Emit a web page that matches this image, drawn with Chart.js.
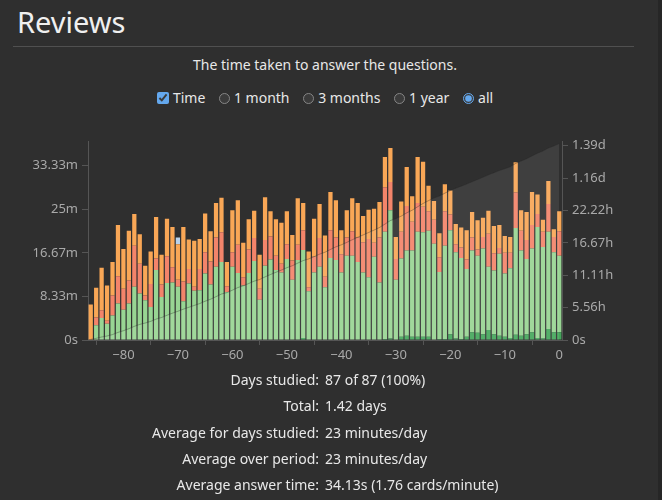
<!DOCTYPE html>
<html>
<head>
<meta charset="utf-8">
<script src="https://cdn.jsdelivr.net/npm/chart.js@4.4.1/dist/chart.umd.min.js"></script>
<style>
    html, body { margin: 0; padding: 0; }
    body {
        width: 662px; height: 500px; overflow: hidden; position: relative;
        background: #2f2f2f; color: #e8e8e8;
        font-family: "Noto Sans", "Open Sans", sans-serif;
        color-scheme: dark;
    }
    #title { position: absolute; left: 17px; top: 7px; font-size: 29px; line-height: 29px; color: #f0f0f0; }
    #rule { position: absolute; left: 13px; top: 46px; width: 621px; height: 1px; background: #505050; }
    #subtitle { position: absolute; left: 0; width: 650px; top: 55px; text-align: center; font-size: 14px; line-height: 20px; }
    #controls { position: absolute; left: 0; width: 650px; top: 88px; text-align: center; font-size: 14px; line-height: 20px; }
    #controls label { margin: 0 5px; white-space: nowrap; }
    #controls input { margin: 0 4px 0 0; vertical-align: -1px; width: 11px; height: 11px; accent-color: #64a8ee; }
    #controls input[type=checkbox] { width: 12px; height: 12px; vertical-align: -1px; }
    #chart-wrap { position: absolute; left: 0; top: 130px; width: 662px; height: 240px; }
    #stats { position: absolute; left: 0; top: 367px; width: 650px; font-size: 14px; line-height: 26.3px; }
    #stats .row { display: flex; }
    #stats .k { width: 319px; text-align: right; }
    #stats .v { padding-left: 6px; }
    #edge { position: absolute; right: 0; top: 0; width: 4px; height: 500px; background: #262626; }
</style>
</head>
<body>
<div id="title">Reviews</div>
<div id="rule"></div>
<div id="subtitle">The time taken to answer the questions.</div>
<div id="controls">
    <label><input type="checkbox" checked>Time</label>
    <label><input type="radio" name="range">1 month</label>
    <label><input type="radio" name="range">3 months</label>
    <label><input type="radio" name="range">1 year</label>
    <label><input type="radio" name="range" checked>all</label>
</div>
<div id="chart-wrap"><canvas id="reviewsChart" width="662" height="240"></canvas></div>
<div id="stats">
    <div class="row"><span class="k">Days studied:</span><span class="v">87 of 87 (100%)</span></div>
    <div class="row"><span class="k">Total:</span><span class="v">1.42 days</span></div>
    <div class="row"><span class="k">Average for days studied:</span><span class="v">23 minutes/day</span></div>
    <div class="row"><span class="k">Average over period:</span><span class="v">23 minutes/day</span></div>
    <div class="row"><span class="k">Average answer time:</span><span class="v">34.13s (1.76 cards/minute)</span></div>
</div>
<div id="edge"></div>

<script>
// Days relative to today
const days = [
    -86, -85, -84, -83, -82, -81, -80, -79, -78, -77,
    -76, -75, -74, -73, -72, -71, -70, -69, -68, -67,
    -66, -65, -64, -63, -62, -61, -60, -59, -58, -57,
    -56, -55, -54, -53, -52, -51, -50, -49, -48, -47,
    -46, -45, -44, -43, -42, -41, -40, -39, -38, -37,
    -36, -35, -34, -33, -32, -31, -30, -29, -28, -27,
    -26, -25, -24, -23, -22, -21, -20, -19, -18, -17,
    -16, -15, -14, -13, -12, -11, -10, -9, -8, -7,
    -6, -5, -4, -3, -2, -1, 0
];

// Minutes per day, one array per card type
const matureMins = [
    0, 0, 0, 0, 0, 0, 0, 0, 0, 0,
    0, 0, 0, 0, 0, 0, 0, 0, 0, 0,
    0, 0, 0, 0, 0, 0, 0, 0, 0, 0,
    0, 0, 0, 0, 0, 0, 0, 0, 0, 0.4,
    0, 0, 0, 0, 0, 0, 0, 0, 0, 0,
    0, 0, 0, 0, 0.2, 0.3, 0, 0.6, 0.8, 0.6,
    0.6, 0.6, 0.6, 0, 0.2, 0.2, 1.1, 0.3, 0.2, 0.6,
    1.5, 1.4, 1.1, 1.9, 1.1, 0.8, 0.6, 0.4, 1.0, 0.8,
    1.1, 1.5, 0.4, 0.3, 2.1, 1.5, 1.5
];
const youngMins = [
    0, 2.8, 4.2, 3.1, 4.7, 7.0, 5.8, 7.0, 10.2, 8.9,
    7.6, 6.3, 13.4, 8.2, 10.9, 11.0, 10.2, 7.4, 10.8, 9.4,
    9.5, 12.7, 10.6, 14.0, 14.9, 9.2, 14.0, 12.8, 10.4, 12.8,
    15.1, 7.7, 14.2, 15.4, 13.4, 12.9, 15.5, 11.5, 15.3, 16.8,
    9.3, 12.9, 14.0, 10.1, 15.7, 15.3, 12.9, 16.1, 16.1, 14.9,
    12.9, 12.0, 15.9, 11.0, 20.5, 24.5, 11.5, 15.0, 16.3, 16.5,
    20.1, 20.0, 20.3, 18.4, 12.8, 17.8, 19.9, 16.5, 15.5, 13.0,
    15.6, 14.7, 16.4, 12.1, 12.2, 15.7, 12.1, 13.3, 20.4, 16.3,
    14.4, 16.0, 21.2, 17.5, 18.6, 15.3, 14.6
];
const relearnMins = [
    0, 1.5, 1.5, 0.6, 3.8, 5.2, 4.0, 4.4, 7.8, 5.7,
    0.9, 4.4, 2.2, 2.4, 5.1, 2.9, 1.3, 3.8, 2.8, 0.8,
    4.1, 4.1, 4.4, 5.6, 5.7, 1.1, 2.8, 5.4, 1.6, 4.5,
    4.4, 2.1, 4.9, 4.4, 2.7, 1.7, 2.8, 3.7, 2.9, 3.8,
    0.8, 3.0, 5.5, 2.0, 5.3, 4.3, 3.5, 3.5, 4.7, 4.7,
    5.8, 7.3, 2.7, 8.6, 8.5, 5.4, 4.0, 5.1, 8.5, 5.5,
    5.5, 4.9, 3.7, 4.6, 2.8, 6.6, 3.0, 1.5, 2.0, 1.8,
    2.5, 1.2, 2.2, 6.3, 3.3, 1.1, 4.0, 3.0, 6.8, 3.8,
    3.6, 4.5, 2.5, 2.9, 5.3, 2.9, 4.7
];
const learnMins = [
    6.8, 5.7, 8.1, 6.7, 6.4, 9.8, 7.6, 9.5, 6.1, 5.6,
    5.7, 6.2, 7.9, 5.7, 7.2, 7.7, 6.8, 10.4, 5.6, 8.8,
    5.7, 7.4, 5.8, 6.6, 6.6, 4.6, 8.0, 8.5, 6.6, 5.8,
    5.2, 6.5, 8.2, 4.8, 7.0, 7.8, 6.3, 4.9, 8.9, 5.2,
    6.8, 7.3, 6.5, 7.9, 7.3, 7.1, 4.6, 5.2, 6.3, 6.6,
    5.0, 5.6, 6.5, 6.8, 5.8, 6.5, 4.2, 5.8, 7.5, 4.9,
    8.8, 8.6, 4.9, 3.6, 4.6, 5.2, 4.6, 3.9, 3.8, 5.6,
    4.9, 5.6, 3.7, 4.4, 5.2, 4.4, 3.2, 3.0, 5.8, 3.9,
    5.4, 6.3, 3.7, 2.3, 4.4, 1.5, 3.8
];
const filteredMins = [
    0, 0, 0, 0, 0, 0, 0, 0, 0, 0,
    0, 0, 0, 0, 0, 0, 1.3, 0, 0, 0,
    0, 0, 0, 0, 0, 0, 0, 0, 0, 0,
    0, 0, 0, 0, 0, 0, 0, 0, 0, 0,
    0, 0, 0, 0, 0, 0, 0, 0, 0, 0,
    0, 0, 0, 0, 0, 0, 0, 0, 0, 0,
    0, 0, 0, 0, 0, 0, 0, 0, 0, 0,
    0, 0, 0, 0, 0, 0, 0, 0, 0, 0,
    0, 0, 0, 0, 0, 0, 0
];

// Axis ticks (left in minutes per day, right in cumulative minutes)
const xTickValues = [-80, -70, -60, -50, -40, -30, -20, -10, 0];
const xTickLabels = ["\u221280", "\u221270", "\u221260", "\u221250", "\u221240", "\u221230", "\u221220", "\u221210", "0"];
const leftTickValues = [0, 8.333, 16.667, 25, 33.333];
const leftTickLabels = ["0s", "8.33m", "16.67m", "25m", "33.33m"];
const rightTickValues = [0, 333.33, 666.67, 1000, 1333.33, 1666.67, 2000];
const rightTickLabels = ["0s", "5.56h", "11.11h", "16.67h", "22.22h", "1.16d", "1.39d"];

const TICK_COLOR = "#a9a9a9";
const AXIS_COLOR = "#555555";
const TICK_FONT = { family: "Noto Sans", size: 13 };

function points(values) {
    return days.map((d, i) => ({ x: d, y: values[i] }));
}

// running total for the area on the right axis
let running = 0;
const cumulative = days.map((d, i) => {
    running += matureMins[i] + youngMins[i] + relearnMins[i] + learnMins[i] + filteredMins[i];
    return { x: d, y: running };
});

function barSet(label, values, color) {
    return {
        type: "bar", label, data: points(values), backgroundColor: color,
        borderWidth: 0, yAxisID: "y", order: 1,
        barPercentage: 0.78, categoryPercentage: 1
    };
}

function fixedTicks(values) {
    return (scale) => { scale.ticks = values.map(v => ({ value: v })); };
}

const ctx = document.getElementById("reviewsChart").getContext("2d");
new Chart(ctx, {
    data: {
        datasets: [
            {
                type: "line", label: "Cumulative", data: cumulative, yAxisID: "y2", order: 0,
                borderColor: "rgba(40, 40, 40, 0.35)", borderWidth: 1,
                backgroundColor: "rgba(255, 255, 255, 0.08)", fill: "origin",
                pointRadius: 0, tension: 0
            },
            barSet("Mature", matureMins, "#45a85c"),
            barSet("Young", youngMins, "#98d593"),
            barSet("Relearn", relearnMins, "#f3846a"),
            barSet("Learn", learnMins, "#f9a756"),
            barSet("Filtered", filteredMins, "#b9d2ec")
        ]
    },
    options: {
        responsive: false,
        animation: false,
        layout: { padding: { top: 11, left: 0, right: 0, bottom: 0 } },
        plugins: { legend: { display: false }, tooltip: { enabled: false } },
        scales: {
            x: {
                type: "linear", min: -86.5, max: 0.5, stacked: true, offset: false,
                afterBuildTicks: fixedTicks(xTickValues),
                afterFit: (scale) => { scale.height = 30; },
                ticks: {
                    color: TICK_COLOR, font: TICK_FONT, padding: 2, maxRotation: 0,
                    callback: (v) => xTickLabels[xTickValues.indexOf(v)]
                },
                grid: { drawOnChartArea: false, drawTicks: true, tickLength: 5, color: AXIS_COLOR },
                border: { color: AXIS_COLOR }
            },
            y: {
                type: "linear", position: "left", stacked: true, min: 0, max: 37.9,
                afterBuildTicks: fixedTicks(leftTickValues),
                afterFit: (scale) => { scale.width = 88; },
                ticks: {
                    color: TICK_COLOR, font: TICK_FONT, padding: 4,
                    callback: (v) => leftTickLabels[leftTickValues.indexOf(v)]
                },
                grid: { drawOnChartArea: false, drawTicks: true, tickLength: 6, color: AXIS_COLOR },
                border: { color: AXIS_COLOR }
            },
            y2: {
                type: "linear", position: "right", stacked: false, min: 0, max: 2041,
                afterBuildTicks: fixedTicks(rightTickValues),
                afterFit: (scale) => { scale.width = 100; },
                ticks: {
                    color: TICK_COLOR, font: TICK_FONT, padding: 4,
                    callback: (v) => rightTickLabels[rightTickValues.indexOf(v)]
                },
                grid: { drawOnChartArea: false, drawTicks: true, tickLength: 6, color: AXIS_COLOR },
                border: { color: AXIS_COLOR }
            }
        }
    }
});
</script>
</body>
</html>
